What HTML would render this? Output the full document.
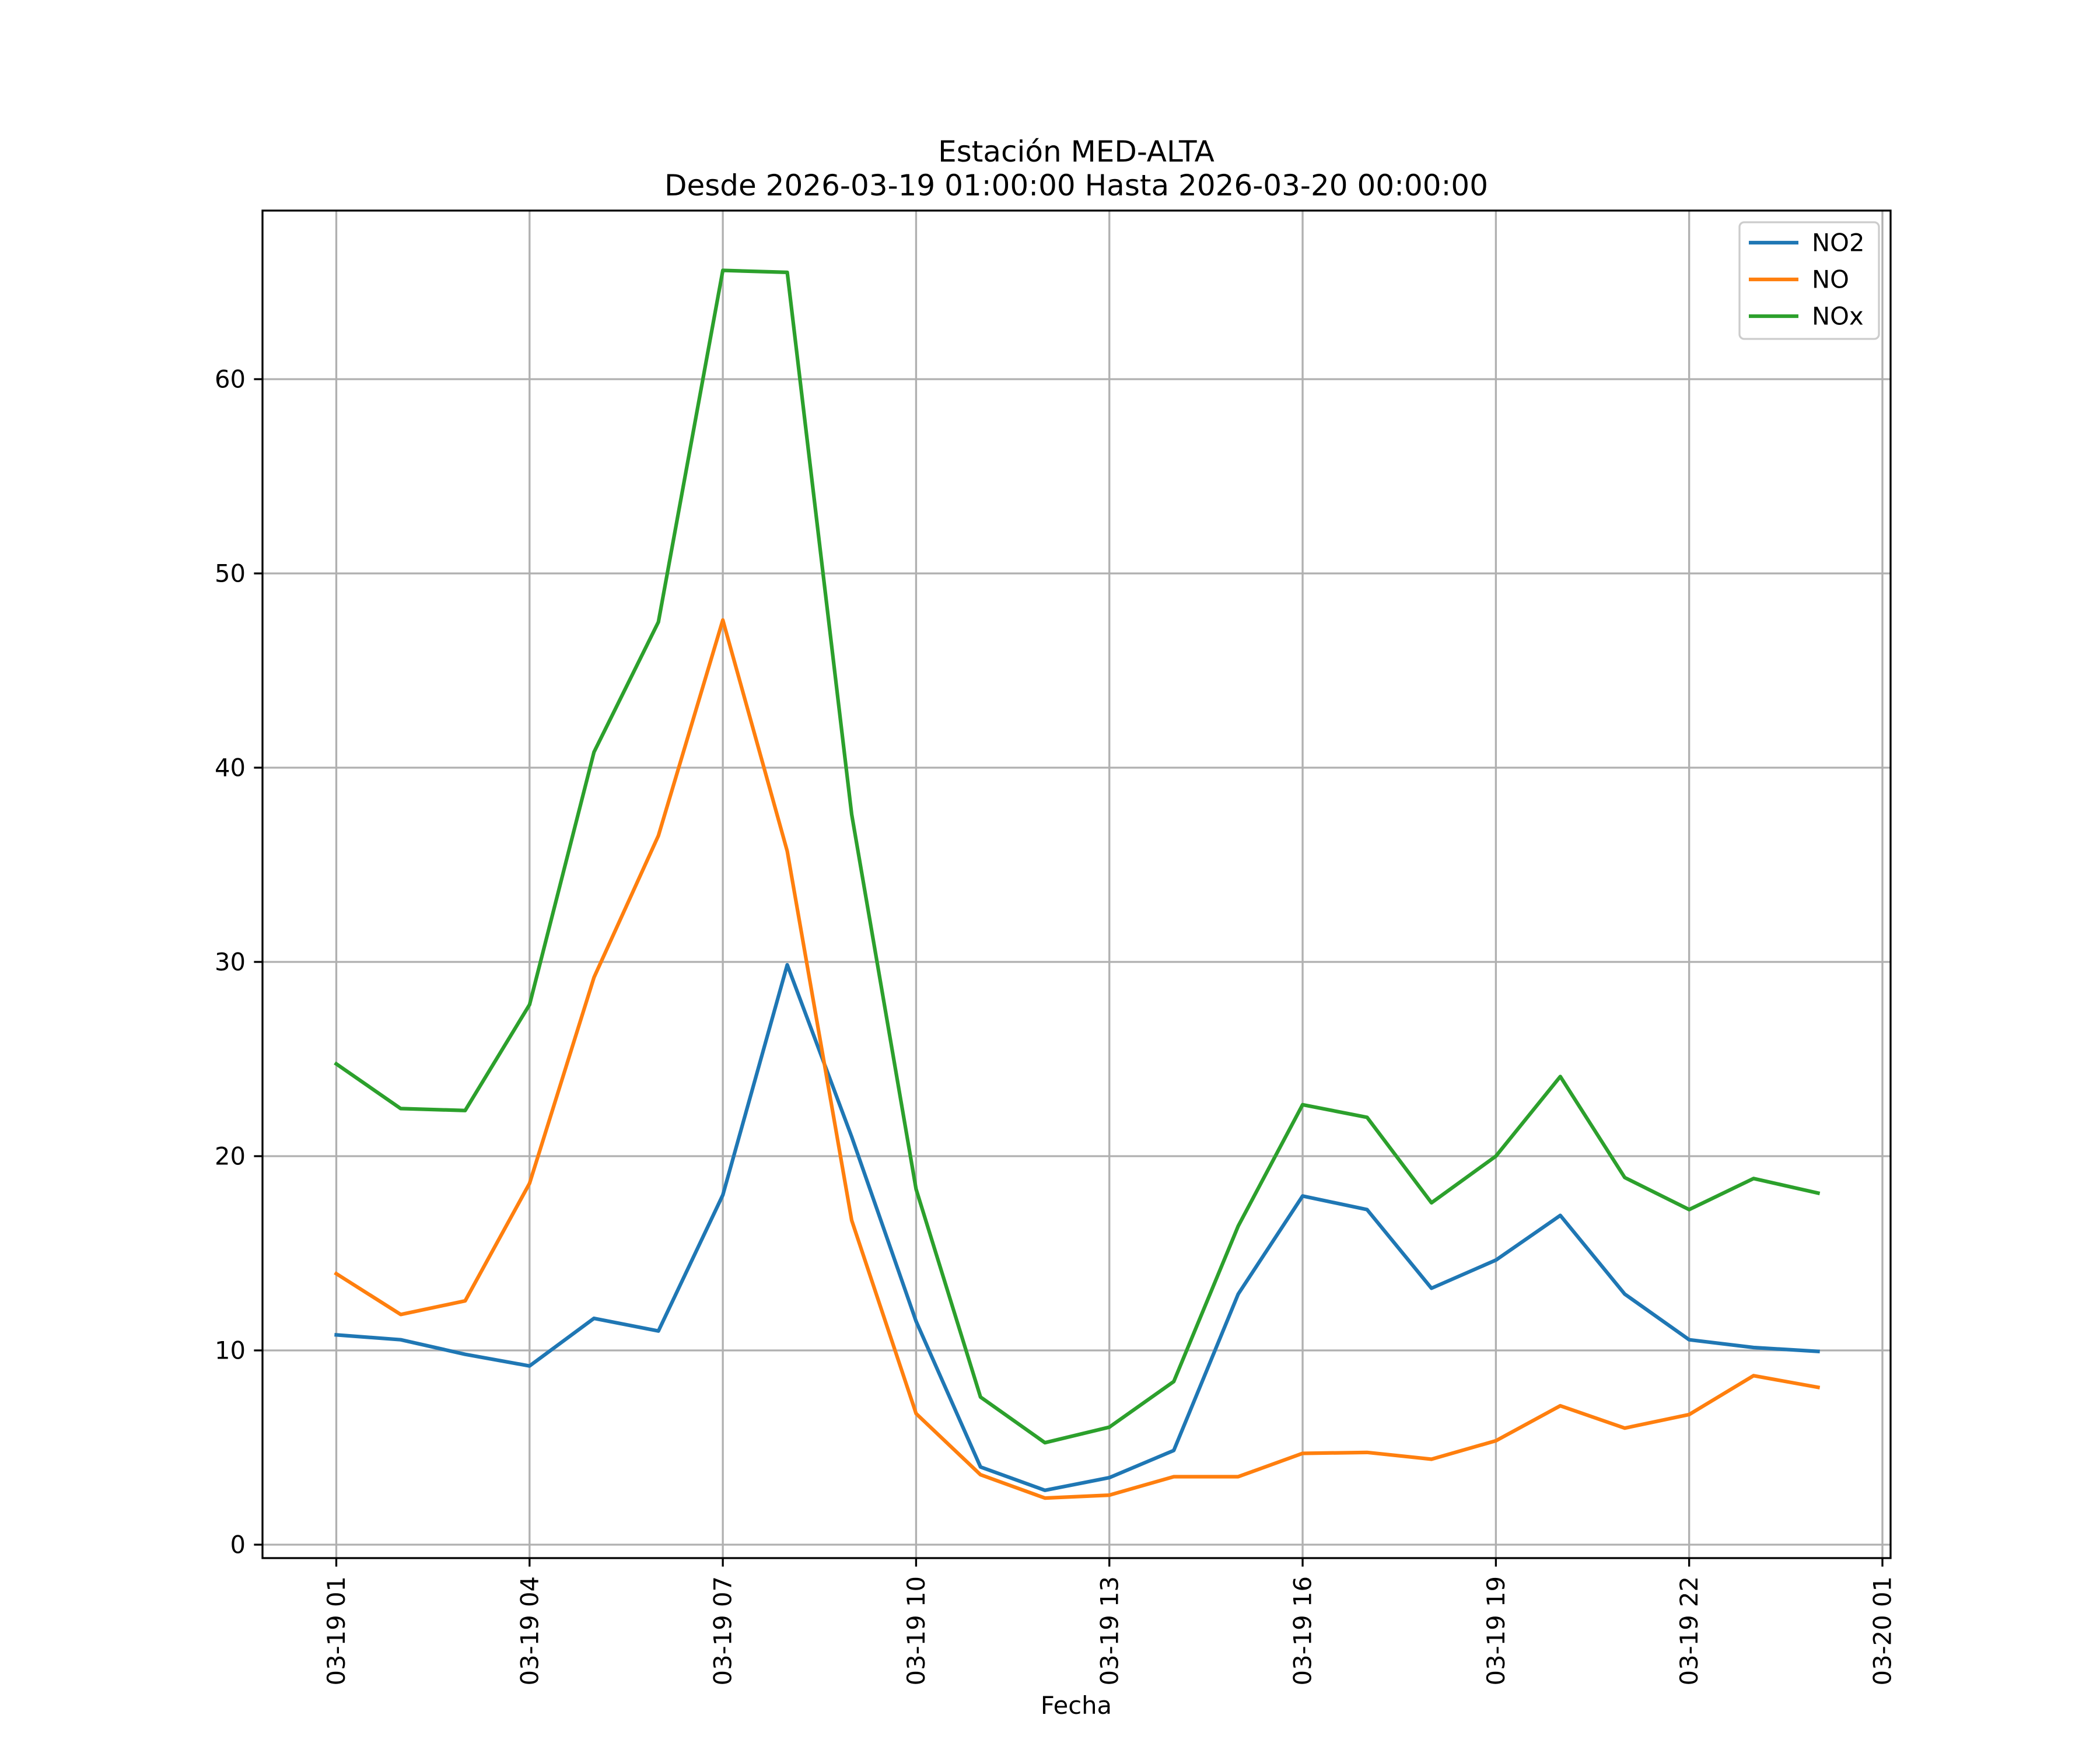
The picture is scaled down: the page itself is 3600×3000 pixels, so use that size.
<!DOCTYPE html>
<html><head><meta charset="utf-8"><style>
body{margin:0;background:#fff}
svg{display:block;font-family:"DejaVu Sans","Liberation Sans",sans-serif}
</style></head><body>
<svg id="chart" width="3600" height="3000" viewBox="0 0 3600 3000" xmlns="http://www.w3.org/2000/svg">
<rect width="3600" height="3000" fill="#fff"/>
<text x="1845" y="277" font-size="50" text-anchor="middle">Estación MED-ALTA</text>
<text x="1845" y="335" font-size="50" text-anchor="middle">Desde 2026-03-19 01:00:00 Hasta 2026-03-20 00:00:00</text>
<g id="grid"></g>
<g id="series"></g>
<rect x="450" y="361" width="2791" height="2310" fill="none" stroke="#000" stroke-width="3.3"/>
<g id="xticks"></g>
<g id="yticks"></g>
<text x="1845" y="2938" font-size="41.7" text-anchor="middle">Fecha</text>
<g>
<rect x="2982" y="381" width="239" height="200" rx="8" fill="#fff" fill-opacity="0.8" stroke="#ccc" stroke-width="3.3"/>
<g id="legend-items"></g>
</g>
</svg>
<script>
const hours=[1,2,3,4,5,6,7,8,9,10,11,12,13,14,15,16,17,18,19,20,21,22,23,24];
const no2=[10.8,10.55,9.8,9.2,11.65,11.0,18.0,29.85,21.0,11.5,4.0,2.8,3.45,4.85,12.9,17.95,17.25,13.2,14.65,16.95,12.9,10.55,10.15,9.95];
const no=[13.95,11.85,12.55,18.6,29.2,36.5,47.6,35.7,16.7,6.75,3.6,2.4,2.55,3.5,3.5,4.7,4.75,4.4,5.35,7.15,6.0,6.7,8.7,8.1];
const nox=[24.75,22.45,22.35,27.8,40.8,47.5,65.6,65.5,37.6,18.3,7.6,5.25,6.05,8.4,16.4,22.65,22.0,17.6,20.0,24.1,18.9,17.25,18.85,18.1];
const yTicks=[0,10,20,30,40,50,60];
const xTickHours=[1,4,7,10,13,16,19,22,25];
const xTickLabels=["03-19 01","03-19 04","03-19 07","03-19 10","03-19 13","03-19 16","03-19 19","03-19 22","03-20 01"];
const seriesNames=["NO2","NO","NOx"];
const seriesColors=["#1f77b4","#ff7f0e","#2ca02c"];
const NS="http://www.w3.org/2000/svg";
const L=450,R=3241,T=361,B=2671;
const xs=h=>576.5+(h-1)*(3227-576.5)/24;
const ys=v=>2648-v*(2648-650)/60;
function mk(tag,attrs,parent){const e=document.createElementNS(NS,tag);for(const k in attrs)e.setAttribute(k,attrs[k]);parent.appendChild(e);return e;}
const grid=document.getElementById('grid'),xt=document.getElementById('xticks'),yt=document.getElementById('yticks');
yTicks.forEach(v=>{const y=ys(v);
 const g=mk('line',{x1:L,x2:R,y1:y,y2:y,stroke:'#b0b0b0','stroke-width':3.3},grid);
 
 
 mk('line',{x1:L-14.6,x2:L,y1:y,y2:y,stroke:'#000','stroke-width':3.3},yt);
 const t=mk('text',{x:L-29,y:y,'font-size':41.7,'text-anchor':'end','dominant-baseline':'central'},yt);
 t.textContent=v;
 
 
});
xTickHours.forEach((h,i)=>{const x=xs(h);
 const g=mk('line',{x1:x,x2:x,y1:T,y2:B,stroke:'#b0b0b0','stroke-width':3.3},grid);
 
 
 mk('line',{x1:x,x2:x,y1:B,y2:B+14.6,stroke:'#000','stroke-width':3.3},xt);
 const t=mk('text',{x:0,y:0,'font-size':41.7,'text-anchor':'end','dominant-baseline':'central',transform:`translate(${x},${B+31}) rotate(-90)`},xt);
 t.textContent=xTickLabels[i];
 
 
});
const ser=document.getElementById('series');
[no2,no,nox].forEach((d,i)=>{
 const p=mk('polyline',{points:d.map((v,j)=>xs(hours[j])+','+ys(v)).join(' '),fill:'none',stroke:seriesColors[i],'stroke-width':6.25,'stroke-linejoin':'round','stroke-linecap':'square'},ser);
 
 
});
const li=document.getElementById('legend-items');
seriesNames.forEach((n,i)=>{const y=416+i*63;
 mk('line',{x1:2998,x2:3083,y1:y,y2:y,stroke:seriesColors[i],'stroke-width':6.25},li);
 const t=mk('text',{x:3106,y:y,'font-size':41.7,'dominant-baseline':'central'},li);
 t.textContent=n;
 
 
});
</script>
</body></html>
